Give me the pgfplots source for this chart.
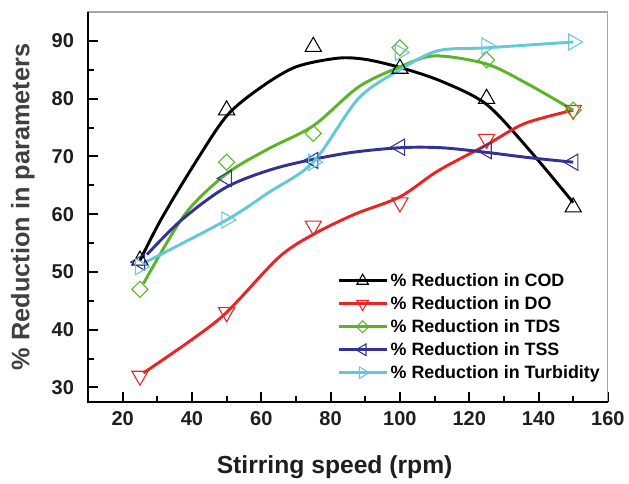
\documentclass[border=0pt]{standalone}
\usepackage{pgfplots}
\pgfplotsset{compat=1.18}
\usepackage{fontspec}
\setmainfont{Liberation Sans}
\definecolor{codc}{RGB}{0,0,0}
\definecolor{doc}{RGB}{235,35,35}
\definecolor{tdsc}{RGB}{90,180,40}
\definecolor{tssc}{RGB}{50,50,150}
\definecolor{turbc}{RGB}{100,200,215}
\definecolor{txt}{RGB}{30,30,30}
\begin{document}
\begin{tikzpicture}
\begin{axis}[
  scale only axis, width=390pt, height=292.5pt,
  xmin=10, xmax=160, ymin=27.5, ymax=95,
  xtick={20,40,...,160}, ytick={30,40,...,90},
  minor x tick num=1, minor y tick num=1,
  tick align=inside, tick pos=left,
  major tick length=7.5pt, minor tick length=4.5pt,
  tick style={black, line width=1.5pt},
  axis line style={gray!70, line width=0.8pt},
  /pgf/number format/assume math mode=true,
  ticklabel style={font=\fontsize{15}{15}\selectfont\bfseries, text=txt},
  yticklabel shift=7pt, xticklabel shift=4pt,
  xlabel={Stirring speed (rpm)},
  ylabel={\% Reduction in parameters},
  xlabel style={font=\fontsize{18.5}{18.5}\selectfont\bfseries, text=txt, yshift=-15pt, xshift=-10pt},
  ylabel style={font=\fontsize{19}{19}\selectfont\bfseries, text=txt!85},
  ylabel shift=6pt,
  legend style={at={(0.479,0.337)}, anchor=north west, draw=none, fill=none,
    font=\fontsize{13.4}{14}\selectfont\bfseries, row sep=2pt, inner sep=0pt},
  legend cell align=left,
  legend image code/.code={\draw[mark repeat=2, mark phase=2] plot coordinates {(0cm,0cm) (0.63cm,0cm) (1.26cm,0cm)};},
]
% fitted curves
\addplot[codc, line width=2.2pt, smooth, forget plot] coordinates {
  (25,52) (31,59) (40,68) (50,77) (60,82) (70,85.5) (82,87) (90,86.8) (100,85.4) (112,83) (125,79) (137.5,71) (150,62)};
\addplot[doc, line width=2.2pt, smooth, forget plot] coordinates {
  (26,32.5) (40,38.3) (50,43) (65,52.5) (75,56.5) (87,60) (100,63) (111,67.5) (125,72) (136,75.7) (150,78)};
\addplot[tdsc, line width=2.2pt, smooth, forget plot] coordinates {
  (26,48) (38,60) (50,67) (62,71.3) (75,75.3) (88,82) (100,85.5) (110,87.4) (125,86) (137,82.5) (150,78)};
\addplot[tssc, line width=2.2pt, smooth, forget plot] coordinates {
  (27,53) (37,59) (50,64.7) (65,68.1) (84,70.5) (100,71.5) (112,71.5) (125,70.7) (137,69.8) (150,69)};
\addplot[turbc, line width=2.2pt, smooth, forget plot] coordinates {
  (26,51.5) (50,59) (62,63.7) (75,69) (88,80) (100,85) (111,88.3) (125,88.8) (150,89.8)};
% measured points
\addplot[codc, only marks, mark=triangle, mark size=7pt, mark options={line width=0.8pt}, forget plot] coordinates {
  (25,52) (50,78) (75,89) (100,85.2) (125,80) (150,61.2)};
\addplot[doc, only marks, mark=triangle, mark size=7pt, mark options={line width=0.8pt, rotate=180}, forget plot] coordinates {
  (25,32) (50,43) (75,58) (100,62) (125,73) (150,78)};
\addplot[tdsc, only marks, mark=square, mark size=4.25pt, mark options={line width=0.8pt, rotate=45}, forget plot] coordinates {
  (25,47) (50,69) (75,74) (100,88.8) (125,86.7) (150,78)};
\addplot[tssc, only marks, mark=triangle, mark size=7pt, mark options={line width=0.8pt, rotate=90}, forget plot] coordinates {
  (25,51.7) (50,66.2) (75,69.3) (100,71.6) (125,71) (150,69)};
\addplot[turbc, only marks, mark=triangle, mark size=7pt, mark options={line width=0.8pt, rotate=-90}, forget plot] coordinates {
  (25,50.9) (50,59) (75,69) (100,88) (125,89.1) (150,89.8)};
\addlegendimage{codc, line width=2.2pt, mark=triangle, mark size=5pt, mark options={line width=0.8pt, fill=white}}
\addlegendentry{\% Reduction in COD}
\addlegendimage{doc, line width=2.2pt, mark=triangle, mark size=5pt, mark options={line width=0.8pt, fill=white, rotate=180}}
\addlegendentry{\% Reduction in DO}
\addlegendimage{tdsc, line width=2.2pt, mark=square, mark size=3.2pt, mark options={line width=0.8pt, fill=white, rotate=45}}
\addlegendentry{\% Reduction in TDS}
\addlegendimage{tssc, line width=2.2pt, mark=triangle, mark size=5pt, mark options={line width=0.8pt, fill=white, rotate=90}}
\addlegendentry{\% Reduction in TSS}
\addlegendimage{turbc, line width=2.2pt, mark=triangle, mark size=5pt, mark options={line width=0.8pt, fill=white, rotate=-90}}
\addlegendentry{\% Reduction in Turbidity}
\end{axis}
\draw[black, line width=2pt] (current axis.north west) -- (current axis.south west) -- (current axis.south east);
\path (current axis.south west) ++(-66pt,-61.5pt);
\path (current axis.north east) ++(15.75pt,9pt);
\end{tikzpicture}
\end{document}
